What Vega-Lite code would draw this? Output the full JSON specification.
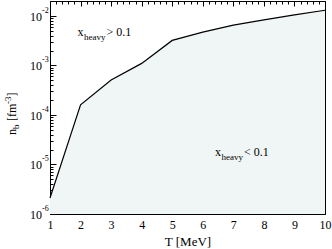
{
  "$schema": "https://vega.github.io/schema/vega-lite/v6.json",
  "width": 275,
  "height": 213,
  "autosize": "none",
  "padding": {"left": 50, "top": 1, "right": 7, "bottom": 35},
  "background": "white",
  "config": {
    "view": {"stroke": "black", "strokeWidth": 1},
    "font": "Liberation Serif",
    "axis": {
      "labelFont": "Liberation Serif",
      "labelFontSize": 12,
      "labelColor": "black",
      "tickColor": "black",
      "tickWidth": 1,
      "domain": false,
      "grid": false,
      "titleFont": "Liberation Serif",
      "titleFontSize": 13,
      "titleFontWeight": "normal",
      "titleColor": "black"
    },
    "text": {"font": "Liberation Serif", "color": "black"}
  },
  "datasets": {
    "curve": [
      {"T": 1, "nb": 0.0000021},
      {"T": 2, "nb": 0.00016},
      {"T": 3, "nb": 0.00051},
      {"T": 4, "nb": 0.0011},
      {"T": 5, "nb": 0.0032},
      {"T": 6, "nb": 0.0047},
      {"T": 7, "nb": 0.0065},
      {"T": 8, "nb": 0.0083},
      {"T": 9, "nb": 0.0105},
      {"T": 10, "nb": 0.013}
    ],
    "ymajor": [
      {"T": 1, "nb": 0.000001, "exp": "-6"},
      {"T": 1, "nb": 0.00001, "exp": "-5"},
      {"T": 1, "nb": 0.0001, "exp": "-4"},
      {"T": 1, "nb": 0.001, "exp": "-3"},
      {"T": 1, "nb": 0.01, "exp": "-2"}
    ],
    "notes": [
      {"T": 1.9, "nb": 0.0039, "main": "x", "sub": "heavy", "rest": "> 0.1"},
      {"T": 6.4, "nb": 0.0000145, "main": "x", "sub": "heavy", "rest": "< 0.1"}
    ],
    "ytitle": [
      {"T": 1, "nb": 0.000001, "n": "n", "b": "b", "fm": "[fm", "e": "-3", "br": "]"}
    ]
  },
  "encoding": {
    "x": {"field": "T", "type": "quantitative", "scale": {"domain": [1, 10], "nice": false, "zero": false}, "axis": null},
    "y": {"field": "nb", "type": "quantitative", "scale": {"type": "log", "domain": [0.000001, 0.02], "nice": false}, "axis": null}
  },
  "layer": [
    {
      "data": {"name": "curve"},
      "mark": {"type": "area", "color": "#f0f6f6", "clip": true},
      "encoding": {
        "x": {"field": "T", "type": "quantitative", "title": "T [MeV]",
              "axis": {"orient": "bottom", "values": [1,2,3,4,5,6,7,8,9,10], "ticks": false, "labelPadding": 5, "titlePadding": 5, "labelFlush": false}},
        "y2": {"datum": 0.000001}
      }
    },
    {
      "data": {"name": "curve"},
      "mark": {"type": "line", "color": "black", "strokeWidth": 1.2}
    },
    {
      "data": {"name": "curve"},
      "mark": {"type": "point", "opacity": 0},
      "encoding": {
        "x": {"field": "T", "type": "quantitative",
              "axis": {"orient": "bottom", "offset": -5, "values": [1,2,3,4,5,6,7,8,9,10], "tickSize": 5, "labels": false, "title": null}},
        "y": {"field": "nb", "type": "quantitative",
              "axis": {"orient": "left", "offset": -6, "values": [0.000001, 0.00001, 0.0001, 0.001, 0.01], "tickSize": 6, "labels": false, "title": null}}
      }
    },
    {
      "data": {"name": "curve"},
      "mark": {"type": "point", "opacity": 0},
      "encoding": {
        "x": {"field": "T", "type": "quantitative",
              "axis": {"orient": "bottom", "offset": -3, "values": [1.2,1.4,1.6,1.8,2.2,2.4,2.6,2.8,3.2,3.4,3.6,3.8,4.2,4.4,4.6,4.8,5.2,5.4,5.6,5.8,6.2,6.4,6.6,6.8,7.2,7.4,7.6,7.8,8.2,8.4,8.6,8.8,9.2,9.4,9.6,9.8], "tickSize": 3, "labels": false, "title": null}},
        "y": {"field": "nb", "type": "quantitative",
              "axis": {"orient": "left", "offset": -3, "values": [0.000002,0.000003,0.000004,0.000005,0.000006,0.000007,0.000008,0.000009,0.00002,0.00003,0.00004,0.00005,0.00006,0.00007,0.00008,0.00009,0.0002,0.0003,0.0004,0.0005,0.0006,0.0007,0.0008,0.0009,0.002,0.003,0.004,0.005,0.006,0.007,0.008,0.009,0.02], "tickSize": 3, "labels": false, "title": null}}
      }
    },
    {
      "data": {"name": "curve"},
      "mark": {"type": "point", "opacity": 0},
      "encoding": {
        "x": {"field": "T", "type": "quantitative",
              "axis": {"orient": "top", "offset": -5, "values": [1,2,3,4,5,6,7,8,9,10], "tickSize": 5, "labels": false, "title": null}},
        "y": {"field": "nb", "type": "quantitative",
              "axis": {"orient": "right", "offset": -6, "values": [0.000001, 0.00001, 0.0001, 0.001, 0.01], "tickSize": 6, "labels": false, "title": null}}
      }
    },
    {
      "data": {"name": "curve"},
      "mark": {"type": "point", "opacity": 0},
      "encoding": {
        "x": {"field": "T", "type": "quantitative",
              "axis": {"orient": "top", "offset": -3, "values": [1.2,1.4,1.6,1.8,2.2,2.4,2.6,2.8,3.2,3.4,3.6,3.8,4.2,4.4,4.6,4.8,5.2,5.4,5.6,5.8,6.2,6.4,6.6,6.8,7.2,7.4,7.6,7.8,8.2,8.4,8.6,8.8,9.2,9.4,9.6,9.8], "tickSize": 3, "labels": false, "title": null}},
        "y": {"field": "nb", "type": "quantitative",
              "axis": {"orient": "right", "offset": -3, "values": [0.000002,0.000003,0.000004,0.000005,0.000006,0.000007,0.000008,0.000009,0.00002,0.00003,0.00004,0.00005,0.00006,0.00007,0.00008,0.00009,0.0002,0.0003,0.0004,0.0005,0.0006,0.0007,0.0008,0.0009,0.002,0.003,0.004,0.005,0.006,0.007,0.008,0.009,0.02], "tickSize": 3, "labels": false, "title": null}}
      }
    },
    {
      "data": {"name": "ymajor"},
      "mark": {"type": "text", "align": "right", "baseline": "middle", "dx": -8, "dy": 1, "fontSize": 12},
      "encoding": {"text": {"value": "10"}}
    },
    {
      "data": {"name": "ymajor"},
      "mark": {"type": "text", "align": "left", "baseline": "middle", "dx": -8, "dy": -5, "fontSize": 8},
      "encoding": {"text": {"field": "exp"}}
    },
    {
      "data": {"name": "notes"},
      "mark": {"type": "text", "align": "left", "baseline": "alphabetic", "fontSize": 12},
      "encoding": {"text": {"field": "main"}}
    },
    {
      "data": {"name": "notes"},
      "mark": {"type": "text", "align": "left", "baseline": "alphabetic", "fontSize": 9, "dx": 6.5, "dy": 4},
      "encoding": {"text": {"field": "sub"}}
    },
    {
      "data": {"name": "notes"},
      "mark": {"type": "text", "align": "left", "baseline": "alphabetic", "fontSize": 12, "dx": 29},
      "encoding": {"text": {"field": "rest"}}
    },
    {
      "data": {"name": "ytitle"},
      "mark": {"type": "text", "align": "left", "baseline": "alphabetic", "angle": 270, "fontSize": 12, "dx": 79, "dy": -34},
      "encoding": {"text": {"field": "n"}}
    },
    {
      "data": {"name": "ytitle"},
      "mark": {"type": "text", "align": "left", "baseline": "alphabetic", "angle": 270, "fontSize": 9, "dx": 85, "dy": -31},
      "encoding": {"text": {"field": "b"}}
    },
    {
      "data": {"name": "ytitle"},
      "mark": {"type": "text", "align": "left", "baseline": "alphabetic", "angle": 270, "fontSize": 12, "dx": 93, "dy": -34},
      "encoding": {"text": {"field": "fm"}}
    },
    {
      "data": {"name": "ytitle"},
      "mark": {"type": "text", "align": "left", "baseline": "alphabetic", "angle": 270, "fontSize": 9, "dx": 110, "dy": -39},
      "encoding": {"text": {"field": "e"}}
    },
    {
      "data": {"name": "ytitle"},
      "mark": {"type": "text", "align": "left", "baseline": "alphabetic", "angle": 270, "fontSize": 12, "dx": 117.5, "dy": -34},
      "encoding": {"text": {"field": "br"}}
    }
  ],
  "resolve": {"axis": {"x": "independent", "y": "independent"}}
}
